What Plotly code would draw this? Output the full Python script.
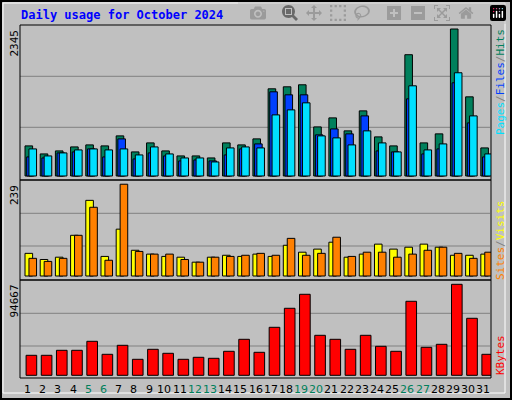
import plotly.graph_objects as go

days = list(range(1, 32))
weekend = [5, 6, 12, 13, 19, 20, 26, 27]
hits = [480,352,400,464,496,480,640,384,528,400,320,320,288,528,496,592,1391,1423,1455,783,927,720,1039,624,480,1935,528,672,2345,1263,448]
files = [304,288,368,384,432,304,592,272,368,320,240,256,240,336,432,512,1343,1295,1295,656,751,672,959,400,384,1231,352,432,1487,847,304]
pages = [432,320,368,416,432,416,432,336,464,352,288,288,224,448,464,448,975,1055,1167,640,608,496,720,528,384,1439,416,512,1647,959,352]
visits = [59,43,49,106,197,51,122,67,57,51,49,36,49,54,51,57,51,80,62,70,88,49,57,83,70,75,83,75,54,54,57]
sites = [46,38,46,106,179,41,239,64,57,57,43,36,49,51,54,59,54,98,54,59,101,51,62,62,49,57,67,75,59,46,62]
kbytes = [20808,20808,26010,26010,35374,21848,31212,16646,27050,22889,16646,18727,17687,24970,37454,23929,49939,69707,84272,41616,37454,27050,41616,30172,24970,76989,29131,32252,94667,59303,21848]

W, H = 512, 400
def py(p):  # pixel y -> paper
    return 1 - p / H
def px(p):
    return p / W

fig = go.Figure()
def bar(y, color, off, wid, xa, ya):
    fig.add_trace(go.Bar(x=days, y=y, offset=off, width=wid, marker=dict(color=color, line=dict(color="black", width=1)),
                         xaxis=xa, yaxis=ya, showlegend=False, hoverinfo="skip"))

bar(hits, "#00805c", -0.17, 0.5, "x", "y")
bar(files, "#0040ff", -0.06, 0.5, "x", "y")
bar(pages, "#00e0ff", 0.09, 0.5, "x", "y")
bar(visits, "#ffff00", -0.17, 0.5, "x2", "y2")
bar(sites, "#ff8000", 0.09, 0.5, "x2", "y2")
bar(kbytes, "#ff0000", -0.1, 0.7, "x3", "y3")

xd = [px(20), px(491)]
ax = dict(range=[0.5, 31.5], showticklabels=False, showgrid=False, zeroline=False, domain=xd)
ay = dict(showticklabels=False, showgrid=False, zeroline=False)
fig.update_layout(
    width=W, height=H, margin=dict(l=0, r=0, t=0, b=0), autosize=False,
    paper_bgcolor="#c0c0c0", plot_bgcolor="#c0c0c0", barmode="overlay",
    xaxis=dict(ax, anchor="y"), xaxis2=dict(ax, anchor="y2"), xaxis3=dict(ax, anchor="y3"),
    yaxis=dict(ay, domain=[py(180), py(25)], range=[-64, 2409]),
    yaxis2=dict(ay, domain=[py(280), py(180)], range=[-10.4, 250]),
    yaxis3=dict(ay, domain=[py(378), py(280)], range=[-2809, 99140]),
)

shapes = []
for gy in [76.3, 127.3, 213.3, 246, 313.3, 346]:
    shapes.append(dict(type="line", xref="paper", yref="paper", x0=px(20), x1=px(490), y0=py(gy), y1=py(gy),
                       line=dict(color="#808080", width=1), layer="below"))
for (t, b) in [(25, 180), (180, 280), (280, 378)]:
    shapes.append(dict(type="rect", xref="paper", yref="paper", x0=px(20), x1=px(491), y0=py(b), y1=py(t),
                       line=dict(color="black", width=1)))
shapes.append(dict(type="rect", xref="paper", yref="paper", x0=px(1), x1=px(511), y0=py(399), y1=py(1),
                   line=dict(color="black", width=2)))
shapes.append(dict(type="rect", xref="paper", yref="paper", x0=px(3), x1=px(505), y0=py(393), y1=py(3),
                   line=dict(color="white", width=1)))
fig.update_layout(shapes=shapes)

mono = "DejaVu Sans Mono"
ann = [
    dict(text="<b>Daily usage for October 2024</b>", x=px(19), y=py(15), xanchor="left", yanchor="middle",
         font=dict(family=mono, size=12, color="#0000ff")),
    dict(text="2345", x=px(14), y=py(28), xanchor="center", yanchor="top", textangle=-90, font=dict(family=mono, size=11, color="black")),
    dict(text="239", x=px(14), y=py(183), xanchor="center", yanchor="top", textangle=-90, font=dict(family=mono, size=11, color="black")),
    dict(text="94667", x=px(14), y=py(283), xanchor="center", yanchor="top", textangle=-90, font=dict(family=mono, size=11, color="black")),
    dict(text="<span style='color:#00e0ff'>Pages</span>/<span style='color:#0040ff'>Files</span>/<span style='color:#00805c'>Hits</span>",
         x=px(500), y=py(27), xanchor="center", yanchor="top", textangle=-90, font=dict(family=mono, size=11, color="#808080")),
    dict(text="<span style='color:#ff8000'>Sites</span>/<span style='color:#ffff00'>Visits</span>",
         x=px(500), y=py(198), xanchor="center", yanchor="top", textangle=-90, font=dict(family=mono, size=11, color="#808080")),
    dict(text="KBytes", x=px(500), y=py(333), xanchor="center", yanchor="top", textangle=-90, font=dict(family=mono, size=11, color="#ff0000")),
]
for d in days:
    ann.append(dict(text=str(d), x=d, xref="x3", y=py(389), yref="paper", xanchor="center", yanchor="middle", showarrow=False,
                    font=dict(family="DejaVu Sans", size=11, color="#00805c" if d in weekend else "black")))
for a in ann:
    a.setdefault("xref", "paper"); a.setdefault("yref", "paper"); a["showarrow"] = False
fig.update_layout(annotations=ann)
fig.write_html("out.html", post_script="document.body.style.margin='0';document.body.style.overflow='hidden';")
